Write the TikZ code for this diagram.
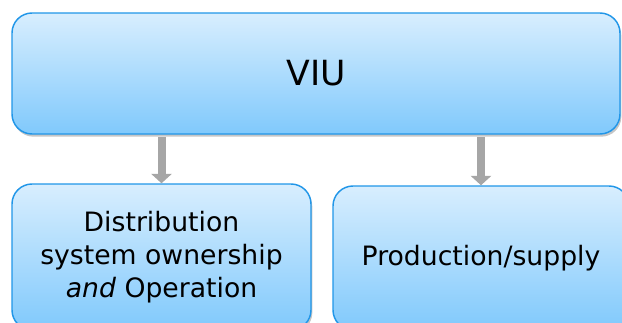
\documentclass[tikz,border=0pt]{standalone}
\usepackage{fontspec}
\setmainfont{DejaVu Sans}
\usepackage{xcolor}
\usepackage{tikz}
\usetikzlibrary{arrows.meta,shadows,positioning}

\definecolor{boxtop}{HTML}{D8EEFE}
\definecolor{boxbot}{HTML}{80C9FC}
\definecolor{boxline}{HTML}{2196E8}
\definecolor{arrgray}{HTML}{A6A6A6}

\tikzset{
  bluebox/.style={rectangle, rounded corners=15pt, draw=boxline, line width=1.1pt,
    top color=boxtop, bottom color=boxbot, align=center,
    drop shadow={shadow xshift=1pt, shadow yshift=-2pt, opacity=0.45}},
  downarr/.style={draw=arrgray, line width=6pt, -{Triangle[width=15pt,length=7pt]}}
}

\begin{document}
\begin{tikzpicture}[x=0.75pt, y=-0.75pt]
    \useasboundingbox (0,0) rectangle (622,322);
    \node(VIU) at (316,73.5) [bluebox, minimum width=456pt, minimum height=90.75pt,
      font=\fontsize{26}{30}\selectfont] {VIU};
    \node(DSO) at (161.5,257) [bluebox, minimum width=224.25pt, minimum height=109.5pt,
      font=\fontsize{20}{25}\selectfont] {Distribution\\system ownership\\\textit{and} Operation};
    \node(PS) at (481,258) [bluebox, minimum width=222pt, minimum height=108pt,
      font=\fontsize{20}{25}\selectfont] {Production/supply};
    \draw[downarr] ([yshift=-2pt]VIU.south -| DSO.north) -- (DSO.north);
    \draw[downarr] ([yshift=-2pt]VIU.south -| PS.north) -- (PS.north);
  \end{tikzpicture}
\end{document}
